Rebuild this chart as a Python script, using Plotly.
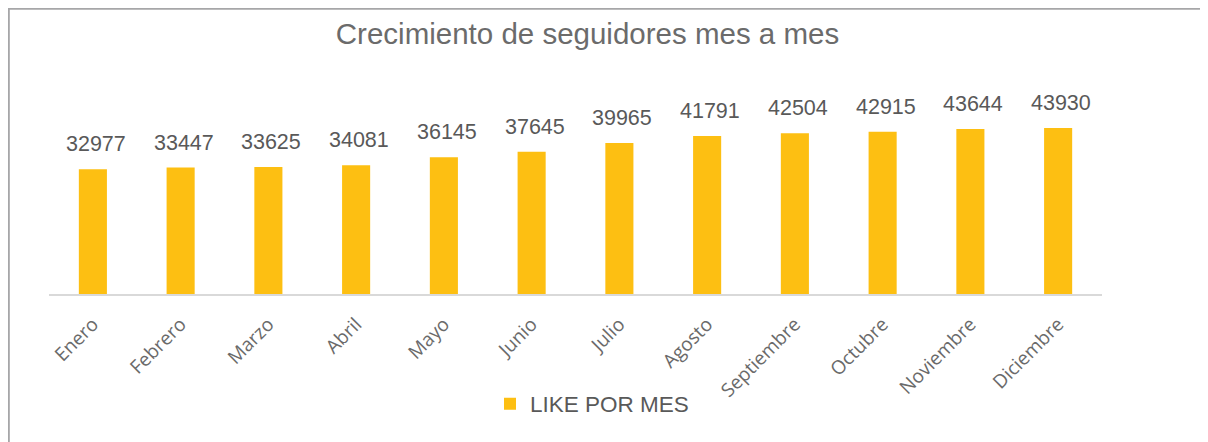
import plotly.graph_objects as go

months = ["Enero", "Febrero", "Marzo", "Abril", "Mayo", "Junio", "Julio",
          "Agosto", "Septiembre", "Octubre", "Noviembre", "Diciembre"]
likes = [32977, 33447, 33625, 34081, 36145, 37645, 39965,
         41791, 42504, 42915, 43644, 43930]
series_name = "LIKE POR MES"
title_text = "Crecimiento de seguidores mes a mes"

# the page adds an 8px body margin; work in figure coordinates
W, H = 1208, 442
L, R, T, B = 41, 114, 97, 156
pw = W - L - R
ph = H - T - B

BAR = "#FDBF12"
TXT = "#595959"
TICK = "#6A6A6A"

fig = go.Figure()
fig.add_trace(go.Bar(
    x=months, y=likes, name=series_name,
    marker=dict(color=BAR, line=dict(width=0)),
    width=0.32, showlegend=True,
))

for m, v in zip(months, likes):
    fig.add_annotation(
        x=m, y=v, text=str(v), showarrow=False,
        xref="x", yref="y", yanchor="bottom", yshift=11, xshift=3,
        font=dict(family="Liberation Sans, Arial", size=21.5, color=TXT),
    )

def px_x(p):
    return (p - L) / pw

def px_y(p):
    return (H - B - p) / ph

fig.add_shape(
    type="rect", xref="paper", yref="paper",
    x0=px_x(0.8), x1=px_x(1240), y0=px_y(480), y1=px_y(0.8),
    line=dict(color="#A6A6A8", width=2), fillcolor="rgba(0,0,0,0)",
    layer="below",
)

fig.update_layout(
    width=W, height=H,
    margin=dict(l=L, r=R, t=T, b=B),
    paper_bgcolor="white", plot_bgcolor="white",
    title=dict(
        text=title_text, x=579.5 / W, xref="container", xanchor="center",
        y=1 - 26 / H, yref="container", yanchor="middle",
        font=dict(family="Liberation Sans, Arial", size=29.5, color="#6B6B6B"),
    ),
    showlegend=True,
    legend=dict(
        orientation="h", x=px_x(482), xanchor="left",
        y=px_y(396), yanchor="middle",
        font=dict(family="Liberation Sans, Arial", size=22.5, color=TXT),
        bgcolor="rgba(0,0,0,0)",
    ),
    xaxis=dict(
        type="category", showline=True, linecolor="#D9D9D9", linewidth=1.5,
        showgrid=False, ticks="", tickangle=-45, zeroline=False,
        ticklabelstandoff=10,
        tickfont=dict(family="Open Sans", size=19, color=TICK),
        range=[-0.5, 11.5],
    ),
    yaxis=dict(
        visible=False, range=[0, 50000], showgrid=False, zeroline=False,
    ),
)

fig.write_html("out.html")
